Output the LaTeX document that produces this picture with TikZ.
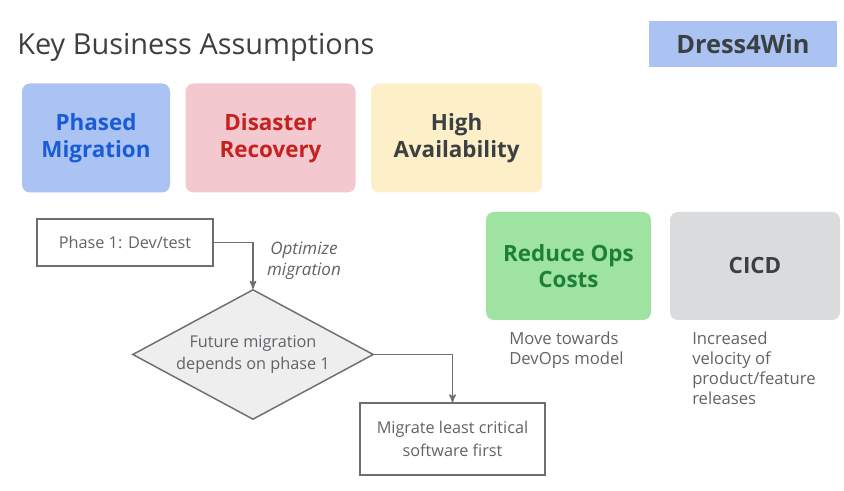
\documentclass[tikz,border=0pt]{standalone}
\usepackage{fontspec}
\setmainfont{Open Sans}
\usepackage{tikz}
\usetikzlibrary{arrows,shapes.geometric,positioning}
\definecolor{inkgray}{HTML}{3C4043}
\definecolor{softgray}{HTML}{5F6368}
\definecolor{linegray}{HTML}{6E6E6E}
\definecolor{bluefill}{HTML}{AAC3F2}
\definecolor{bluetext}{HTML}{1A5CD8}
\definecolor{pinkfill}{HTML}{F3C8CF}
\definecolor{redtext}{HTML}{C5221F}
\definecolor{yellowfill}{HTML}{FDF0C9}
\definecolor{greenfill}{HTML}{9EE3A2}
\definecolor{greentext}{HTML}{1E8038}
\definecolor{grayfill}{HTML}{DADBDD}
\definecolor{diafill}{HTML}{EEEEEE}

\begin{document}
\begin{tikzpicture}[x=0.75pt,y=-0.75pt,>=stealth',node distance=11.25pt,
  topic/.style={rectangle,rounded corners=6pt,minimum height=81.75pt,align=center,
    inner sep=0pt,font=\fontsize{16.8}{20}\selectfont\bfseries},
  flow box/.style={rectangle,draw=linegray,line width=1.1pt,align=center,text=softgray,
    font=\fontsize{12.2}{17.5}\selectfont},
  caption/.style={anchor=north west,align=left,inner sep=0pt,text=softgray,
    font=\fontsize{12.5}{15}\selectfont},
  link/.style={->,draw=linegray,line width=1.1pt}]
\useasboundingbox (0,0) rectangle (844,491);

% title and tag
  \node (title) [anchor=base west,inner sep=0pt,text=inkgray,font=\fontsize{21.7}{25}\selectfont] at (17,55) {Key Business Assumptions};
  \node (tag) [rectangle,fill=bluefill,minimum width=141pt,minimum height=34.5pt,text=inkgray,
    font=\fontsize{19}{22}\selectfont\bfseries] at (743,44) {Dress4Win};

% top row of assumptions
  \node[topic,fill=bluefill,text=bluetext,minimum width=111pt] (phased) at (96,138) {Phased\\Migration};
  \node[topic,fill=pinkfill,text=redtext,minimum width=127.5pt] (disaster) [right=of phased] {Disaster\\Recovery};
  \node[topic,fill=yellowfill,text=inkgray,minimum width=128.25pt] (high) [right=of disaster] {High\\Availability};

% second row
  \node[topic,fill=greenfill,text=greentext,minimum width=123.75pt,minimum height=81pt] (ops) at (568.5,266) {Reduce Ops\\Costs};
  \node[topic,fill=grayfill,text=inkgray,minimum width=127.5pt,minimum height=81pt] (cicd) at (755,266) {CICD};

  \node[caption] (opsnote) at (509,332) {Move towards\\DevOps model};
  \node[caption] (cicdnote) at (692,332) {Increased\\velocity of\\product/feature\\releases};

% flow chart
  \node[flow box,minimum width=132pt,minimum height=35.25pt] (phase1) at (125,242.5) {Phase 1: Dev/test};
  \node[diamond,draw=linegray,line width=1.1pt,fill=diafill,inner sep=0pt,aspect=1.85,
    minimum width=180.75pt,minimum height=97.5pt,align=center,text=softgray,
    font=\fontsize{12.2}{16}\selectfont] (future) at (253,354.5) {Future migration\\depends on phase 1};
  \node[flow box,minimum width=138.75pt,minimum height=54pt] (least) at (452.5,439) {Migrate least critical\\software first};

  \draw[link] (phase1.east) -| (future.north);
  \draw[link] (future.east) -| (least.north);

  \node (optimize) [align=center,text=softgray,font=\fontsize{12.8}{15.5}\selectfont\itshape] at (304,261) {Optimize\\migration};

\end{tikzpicture}
\end{document}
